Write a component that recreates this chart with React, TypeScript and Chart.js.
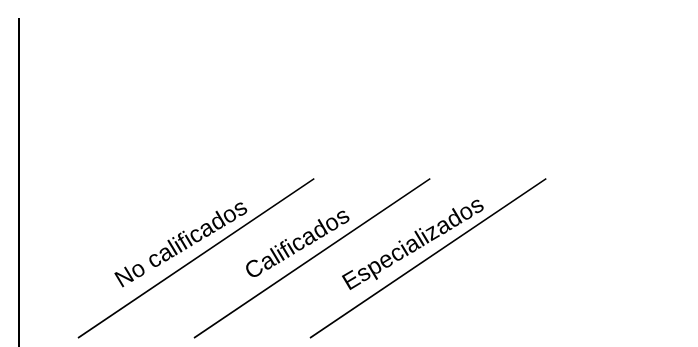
import React, { useEffect, useRef } from "react";
import { Chart, registerables } from "chart.js";

Chart.register(...registerables);

const categories: string[] = ["No calificados", "Calificados", "Especializados"];
const values: number[] = [0, 0, 0];

const LINE_ANGLE = 34;
const TEXT_ANGLE = 31;

const slantLabels = {
  id: "slantLabels",
  afterDraw(chart: any) {
    const { ctx } = chart;
    const xs = chart.scales.x;
    const ys = chart.scales.y;
    const base = ys.getPixelForValue(0);
    const a = (LINE_ANGLE * Math.PI) / 180;
    const ta = (TEXT_ANGLE * Math.PI) / 180;
    (chart.data.labels as string[]).forEach((lab, i) => {
      const x0 = xs.getPixelForValue(i) + 1;
      const y0 = base - 9;
      const len = 285;
      ctx.save();
      ctx.strokeStyle = "#000";
      ctx.lineWidth = 1.6;
      ctx.beginPath();
      ctx.moveTo(x0, y0);
      ctx.lineTo(x0 + len * Math.cos(a), y0 - len * Math.sin(a));
      ctx.stroke();
      const along = 138;
      const cx = x0 + along * Math.cos(a) - 13 * Math.sin(a);
      const cy = y0 - along * Math.sin(a) - 13 * Math.cos(a);
      ctx.translate(cx, cy);
      ctx.rotate(-ta);
      ctx.font = '24px "Liberation Sans", Arial, sans-serif';
      ctx.fillStyle = "#000";
      ctx.textAlign = "center";
      ctx.textBaseline = "alphabetic";
      ctx.fillText(lab, 0, 0);
      ctx.restore();
    });
  },
};

export default function App() {
  const ref = useRef<HTMLCanvasElement>(null);
  useEffect(() => {
    document.body.style.margin = "0";
    const chart = new Chart(ref.current!, {
      type: "bar",
      data: {
        labels: categories,
        datasets: [{ label: "Trabajadores", data: values, backgroundColor: "#000" }],
      },
      options: {
        animation: false,
        responsive: true,
        maintainAspectRatio: false,
        layout: { padding: { left: 19, top: 19, right: 331, bottom: 0 } },
        plugins: { legend: { display: false }, tooltip: { enabled: false } },
        scales: {
          x: { display: false, offset: true },
          y: {
            min: 0,
            max: 100,
            ticks: { display: false },
            grid: { display: false, drawTicks: false },
            border: { display: true, color: "#000", width: 2 },
          },
        },
      },
      plugins: [slantLabels],
    });
    return () => chart.destroy();
  }, []);
  return (
    <div style={{ position: "absolute", left: 0, top: 0, width: 698, height: 347 }}>
      <canvas ref={ref} />
    </div>
  );
}
